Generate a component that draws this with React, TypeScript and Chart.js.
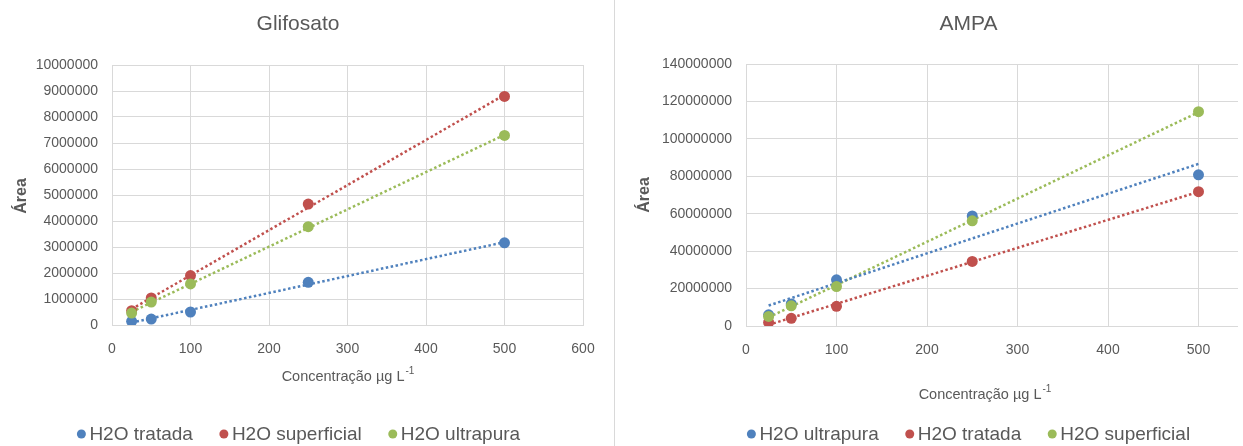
import React, { useEffect, useRef } from 'react';
import { Chart, registerables } from 'chart.js';

Chart.register(...registerables);

// ---------- data ----------
const concentrations = [25, 50, 100, 250, 500];

// Glifosato
const glifosatoTratada = [140000, 230000, 500000, 1640000, 3160000];
const glifosatoSuperficial = [550000, 1040000, 1900000, 4650000, 8790000];
const glifosatoUltrapura = [460000, 880000, 1580000, 3780000, 7290000];

// AMPA
const ampaUltrapura = [6000000, 11800000, 24700000, 58800000, 80800000];
const ampaTratada = [1900000, 4100000, 10500000, 34500000, 71800000];
const ampaSuperficial = [5100000, 10800000, 21100000, 56200000, 114500000];

const seriesLabels = ['H2O tratada', 'H2O superficial', 'H2O ultrapura'];
const xTitleText = 'Concentração µg L';
const xTitleSup = '-1';
const yTitleText = 'Área';

// ---------- styles ----------
const BLUE = '#4F81BD';
const RED = '#C0504D';
const GREEN = '#9BBB59';
const TEXT = '#595959';
const GRID = '#D9D9D9';
const FONT = "'Liberation Sans', Arial, sans-serif";

type Series = { label: string; values: number[]; color: string };

type Spec = {
  title: string;
  series: Series[];
  width: number;
  height: number;
  yMax: number;
  yStep: number;
  yWidth: number;
  top: number;
  bottom: number;
  right: number;
  centerX: number;
  legendX: number;
  yTitleX: number;
  yTitleY: number;
  xTitleX: number;
  xTitleY: number;
};

function fitLine(xs: number[], ys: number[]) {
  const n = xs.length;
  const mx = xs.reduce((a, b) => a + b, 0) / n;
  const my = ys.reduce((a, b) => a + b, 0) / n;
  let sxy = 0;
  let sxx = 0;
  for (let i = 0; i < n; i++) {
    sxy += (xs[i] - mx) * (ys[i] - my);
    sxx += (xs[i] - mx) * (xs[i] - mx);
  }
  const slope = sxy / sxx;
  const icpt = my - slope * mx;
  const x0 = Math.min(...xs);
  const x1 = Math.max(...xs);
  return [
    { x: x0, y: icpt + slope * x0 },
    { x: x1, y: icpt + slope * x1 },
  ];
}

const decorPlugin = {
  id: 'decor',
  afterDraw(chart: any, _args: any, opts: any) {
    const ctx = chart.ctx as CanvasRenderingContext2D;
    ctx.save();
    ctx.fillStyle = TEXT;

    // chart title
    ctx.font = `21px ${FONT}`;
    ctx.textAlign = 'center';
    ctx.textBaseline = 'middle';
    ctx.fillText(opts.title, opts.centerX, 24);

    // y axis title
    ctx.save();
    ctx.translate(opts.yTitleX, opts.yTitleY);
    ctx.rotate(-Math.PI / 2);
    ctx.font = `bold 16px ${FONT}`;
    ctx.textAlign = 'center';
    ctx.textBaseline = 'middle';
    ctx.fillText(yTitleText, 0, 0);
    ctx.restore();

    // x axis title with superscript
    ctx.font = `14.5px ${FONT}`;
    const mw = ctx.measureText(xTitleText).width;
    ctx.font = `10px ${FONT}`;
    const sw = ctx.measureText(xTitleSup).width;
    const sx = opts.xTitleX - (mw + sw + 1) / 2;
    ctx.textAlign = 'left';
    ctx.textBaseline = 'middle';
    ctx.font = `14.5px ${FONT}`;
    ctx.fillText(xTitleText, sx, opts.xTitleY);
    ctx.font = `10px ${FONT}`;
    ctx.fillText(xTitleSup, sx + mw + 1, opts.xTitleY - 6);

    // legend
    const items = chart.data.datasets.filter((d: any) => !d.isTrend);
    ctx.font = `19px ${FONT}`;
    const r = 4.5;
    const textGap = 8;
    const itemGap = 31;
    const widths = items.map((d: any) => ctx.measureText(d.label).width);
    let total = 0;
    widths.forEach((w: number, i: number) => {
      total += r + textGap + w;
      if (i < widths.length - 1) total += itemGap;
    });
    let x = opts.legendX - total / 2 + r;
    const ly = 434;
    items.forEach((d: any, i: number) => {
      ctx.beginPath();
      ctx.fillStyle = d.backgroundColor;
      ctx.arc(x, ly, r, 0, Math.PI * 2);
      ctx.fill();
      ctx.fillStyle = TEXT;
      ctx.textAlign = 'left';
      ctx.textBaseline = 'middle';
      ctx.fillText(d.label, x + textGap, ly + 1);
      x += textGap + widths[i] + itemGap;
    });

    ctx.restore();
  },
};

function buildConfig(spec: Spec): any {
  const n = spec.series.length;
  const points = spec.series.map((s, idx) => ({
    type: 'scatter',
    label: s.label,
    data: concentrations.map((c, i) => ({ x: c, y: s.values[i] })),
    backgroundColor: s.color,
    borderColor: s.color,
    pointRadius: 5.5,
    pointHoverRadius: 5.5,
    pointBorderWidth: 0,
    showLine: false,
    order: n - idx,
  }));
  const trends = spec.series.map((s) => ({
    type: 'line',
    label: s.label + ' (linear)',
    isTrend: true,
    data: fitLine(concentrations, s.values),
    borderColor: s.color,
    backgroundColor: s.color,
    borderWidth: 2.5,
    borderDash: [2.5, 2.5],
    borderCapStyle: 'butt',
    pointRadius: 0,
    fill: false,
    tension: 0,
    order: 10,
  }));

  const tickFont = { family: FONT, size: 14 };
  return {
    type: 'scatter',
    data: { datasets: [...points, ...trends] },
    options: {
      animation: false,
      responsive: false,
      devicePixelRatio: 1,
      events: [],
      layout: { padding: { top: spec.top, right: spec.right, bottom: 0, left: 0 } },
      plugins: {
        legend: { display: false },
        title: { display: false },
        tooltip: { enabled: false },
        decor: {
          title: spec.title,
          centerX: spec.centerX,
          legendX: spec.legendX,
          yTitleX: spec.yTitleX,
          yTitleY: spec.yTitleY,
          xTitleX: spec.xTitleX,
          xTitleY: spec.xTitleY,
        },
      },
      scales: {
        x: {
          type: 'linear',
          min: 0,
          max: 600,
          ticks: { stepSize: 100, color: TEXT, font: tickFont, padding: 16 },
          grid: { color: GRID, drawTicks: false, lineWidth: 1 },
          border: { color: GRID, width: 1 },
          afterFit: (s: any) => {
            s.height = spec.height - spec.bottom;
            s.paddingLeft = 0;
            s.paddingRight = 0;
          },
        },
        y: {
          type: 'linear',
          min: 0,
          max: spec.yMax,
          ticks: {
            stepSize: spec.yStep,
            color: TEXT,
            font: tickFont,
            padding: 14,
            callback: (v: number) => String(Math.round(v)),
          },
          grid: { color: GRID, drawTicks: false, lineWidth: 1 },
          border: { color: GRID, width: 1 },
          afterFit: (s: any) => {
            s.width = spec.yWidth;
            s.paddingTop = 0;
            s.paddingBottom = 0;
          },
        },
      },
    },
    plugins: [decorPlugin],
  };
}

const glifosatoSpec: Spec = {
  title: 'Glifosato',
  series: [
    { label: seriesLabels[0], values: glifosatoTratada, color: BLUE },
    { label: seriesLabels[1], values: glifosatoSuperficial, color: RED },
    { label: seriesLabels[2], values: glifosatoUltrapura, color: GREEN },
  ],
  width: 600,
  height: 446,
  yMax: 10000000,
  yStep: 1000000,
  yWidth: 112,
  top: 65,
  bottom: 325,
  right: 17,
  centerX: 298,
  legendX: 303,
  yTitleX: 22,
  yTitleY: 196,
  xTitleX: 348,
  xTitleY: 377,
};

const ampaSpec: Spec = {
  title: 'AMPA',
  series: [
    { label: seriesLabels[2], values: ampaUltrapura, color: BLUE },
    { label: seriesLabels[0], values: ampaTratada, color: RED },
    { label: seriesLabels[1], values: ampaSuperficial, color: GREEN },
  ],
  width: 696,
  height: 446,
  yMax: 140000000,
  yStep: 20000000,
  yWidth: 126,
  top: 64,
  bottom: 326,
  right: 27,
  centerX: 348.5,
  legendX: 353,
  yTitleX: 25,
  yTitleY: 195,
  xTitleX: 365,
  xTitleY: 395,
};

function ChartPanel({ spec }: { spec: Spec }) {
  const ref = useRef<HTMLCanvasElement>(null);
  useEffect(() => {
    if (!ref.current) return;
    const chart = new Chart(ref.current, buildConfig(spec));
    return () => chart.destroy();
  }, [spec]);
  return (
    <canvas
      ref={ref}
      width={spec.width}
      height={spec.height}
      style={{ display: 'block', width: spec.width, height: spec.height }}
    />
  );
}

export default function App() {
  return (
    <div
      style={{
        position: 'absolute',
        left: 0,
        top: 0,
        width: 1243,
        height: 446,
        background: '#ffffff',
        overflow: 'hidden',
      }}
    >
      <div style={{ position: 'absolute', left: 0, top: 0, width: 600, height: 446 }}>
        <ChartPanel spec={glifosatoSpec} />
      </div>
      <div style={{ position: 'absolute', left: 614, top: 0, width: 1, height: 446, background: GRID }} />
      <div style={{ position: 'absolute', left: 620, top: 0, width: 618, height: 446, overflow: 'hidden' }}>
        <ChartPanel spec={ampaSpec} />
      </div>
    </div>
  );
}
